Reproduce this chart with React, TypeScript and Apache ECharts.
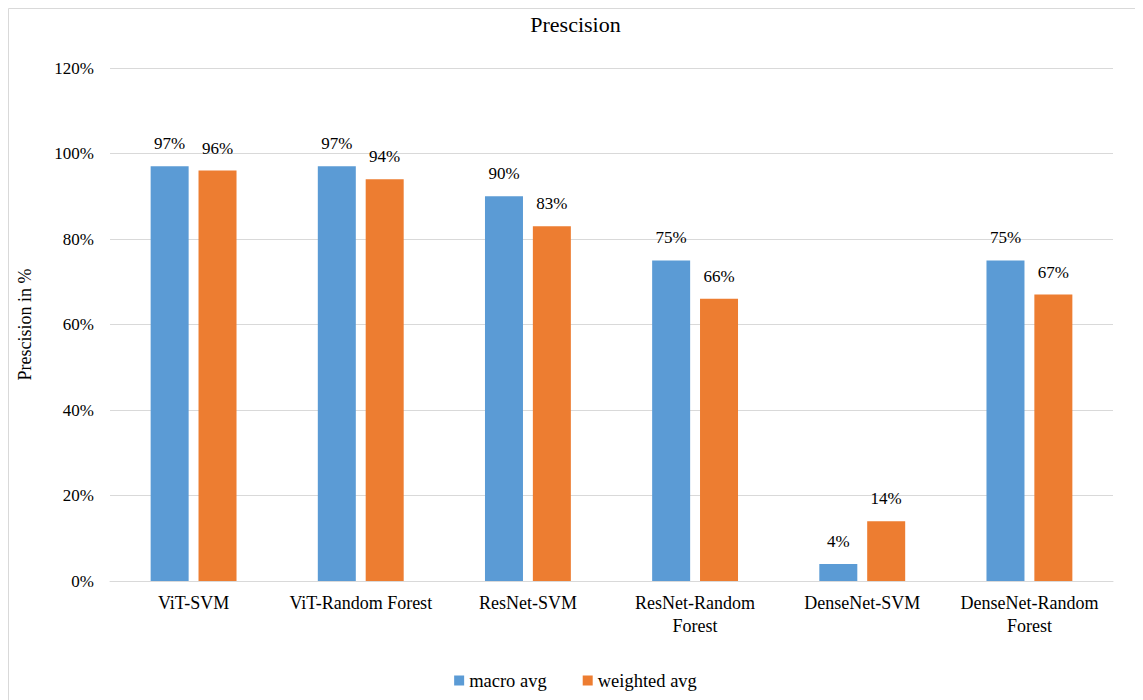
import React, { useEffect, useRef } from "react";
import * as echarts from "echarts";

const categories = ["ViT-SVM", "ViT-Random Forest", "ResNet-SVM", "ResNet-Random\nForest", "DenseNet-SVM", "DenseNet-Random\nForest"];
const macroAvg = [97, 97, 90, 75, 4, 75];
const weightedAvg = [96, 94, 83, 66, 14, 67];
const yTicks = [0, 20, 40, 60, 80, 100, 120];

const FONT = "Liberation Serif";

export default function App() {
  const ref = useRef<HTMLDivElement>(null);
  useEffect(() => {
    if (!ref.current) return;
    const chart = echarts.init(ref.current, null, { renderer: "svg" });
    chart.setOption({
      animation: false,
      textStyle: { fontFamily: FONT },
      graphic: [
        {
          type: "rect",
          shape: { x: 0.5, y: 0.5, width: 1400, height: 1000 },
          style: { fill: "none", stroke: "#d9d9d9", lineWidth: 1 },
          silent: true,
        },
      ],
      title: {
        text: "Prescision",
        left: "center",
        top: 0,
        textStyle: { fontFamily: FONT, fontSize: 22, fontWeight: "normal", color: "#000" },
      },
      legend: {
        bottom: 5,
        left: "center",
        itemWidth: 10,
        itemHeight: 10,
        itemGap: 36,
        icon: "rect",
        textStyle: { fontFamily: FONT, fontSize: 18.5, color: "#000" },
        data: ["macro avg", "weighted avg"],
      },
      grid: { left: 100, right: 30, top: 60, bottom: 119 },
      xAxis: {
        type: "category",
        data: categories,
        axisLine: { lineStyle: { color: "#d9d9d9", width: 1 } },
        axisTick: { show: false },
        axisLabel: { fontFamily: FONT, fontSize: 18, color: "#000", margin: 10, lineHeight: 23, interval: 0 },
      },
      yAxis: {
        type: "value",
        min: 0,
        max: 120,
        interval: 20,
        name: "Prescision in %",
        nameLocation: "middle",
        nameGap: 76,
        nameRotate: 90,
        nameTextStyle: { fontFamily: FONT, fontSize: 18, color: "#000" },
        axisLine: { show: false },
        axisTick: { show: false },
        splitLine: { lineStyle: { color: "#d9d9d9", width: 1 } },
        axisLabel: {
          fontFamily: FONT,
          fontSize: 17,
          color: "#000",
          margin: 16,
          formatter: (v: number) => (yTicks.includes(v) ? v + "%" : ""),
        },
      },
      series: [
        {
          name: "macro avg",
          type: "bar",
          data: macroAvg,
          barWidth: 38,
          barGap: "26%",
          itemStyle: { color: "#5b9bd5" },
          label: { show: true, position: "top", distance: 14, formatter: "{c}%", fontFamily: FONT, fontSize: 17, color: "#000" },
        },
        {
          name: "weighted avg",
          type: "bar",
          data: weightedAvg,
          barWidth: 38,
          barGap: "26%",
          itemStyle: { color: "#ed7d31" },
          label: { show: true, position: "top", distance: 14, formatter: "{c}%", fontFamily: FONT, fontSize: 17, color: "#000" },
        },
      ],
    });
    return () => chart.dispose();
  }, []);
  return <div ref={ref} style={{ width: 1135, height: 692 }} />;
}
